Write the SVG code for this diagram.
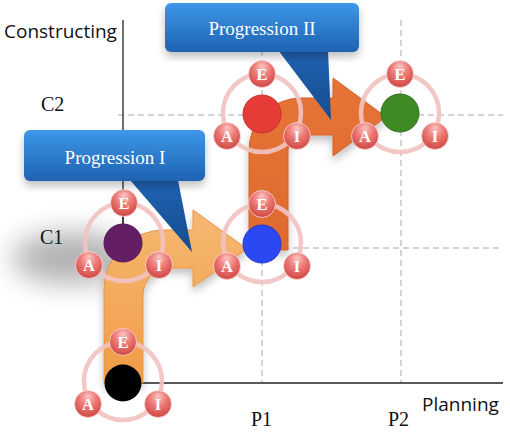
<svg xmlns="http://www.w3.org/2000/svg" width="510" height="437" viewBox="0 0 510 437">
<style>
.axis{stroke:#222;stroke-width:1.3;fill:none}
.grid{stroke:#aaa;stroke-width:1;stroke-dasharray:6 4;fill:none}
.lbl{font-family:"Liberation Serif",serif;font-size:20px;fill:#111}
.slbl{font-family:"Open Sans","DejaVu Sans",sans-serif;font-size:19px;fill:#111}
.ring{fill:none;stroke:#f1c2c1;stroke-width:4.5;opacity:0.92}
.ball{fill:url(#ballG);stroke:#f8dcdb;stroke-width:0.8}
.bt{font-family:"Liberation Serif",serif;font-size:16.5px;font-weight:bold;fill:#fff;text-anchor:middle}
.ctext{font-family:"Liberation Serif",serif;font-size:19px;fill:#fff;text-anchor:middle}
</style>
<defs>
<radialGradient id="ballG" cx="0.5" cy="0.35" r="0.65" fx="0.5" fy="0.2">
<stop offset="0" stop-color="#fbc6c3"/>
<stop offset="0.5" stop-color="#ec7874"/>
<stop offset="1" stop-color="#cf4744"/>
</radialGradient>
<linearGradient id="lightG" gradientUnits="userSpaceOnUse" x1="0" y1="210" x2="0" y2="383">
<stop offset="0" stop-color="#f6b873"/>
<stop offset="1" stop-color="#f19c45"/>
</linearGradient>
<linearGradient id="darkG" gradientUnits="userSpaceOnUse" x1="0" y1="78" x2="0" y2="250">
<stop offset="0" stop-color="#e67436"/>
<stop offset="1" stop-color="#de6a2f"/>
</linearGradient>
<linearGradient id="boxG" x1="0" y1="0" x2="0" y2="1">
<stop offset="0" stop-color="#3d97e9"/>
<stop offset="1" stop-color="#1f62b2"/>
</linearGradient>
<linearGradient id="tailG" x1="0" y1="0" x2="0" y2="1">
<stop offset="0" stop-color="#1f62b2"/>
<stop offset="1" stop-color="#164c8c"/>
</linearGradient>
<filter id="blur" x="-50%" y="-100%" width="200%" height="300%">
<feGaussianBlur stdDeviation="14"/>
</filter>
<filter id="soft" x="-20%" y="-20%" width="140%" height="140%">
<feGaussianBlur in="SourceAlpha" stdDeviation="4"/>
<feOffset dx="0" dy="5" result="b"/>
<feComponentTransfer><feFuncA type="linear" slope="0.25"/></feComponentTransfer>
<feMerge><feMergeNode/><feMergeNode in="SourceGraphic"/></feMerge>
</filter>
<g id="nodeBase">
<circle class="ring" cx="0" cy="0" r="39"/>
</g>
<g id="balls">
<circle class="ball" cx="0" cy="-39" r="13.5"/>
<text class="bt" x="0" y="-33.5">E</text>
<circle class="ball" cx="-35" cy="23" r="13.5"/>
<text class="bt" x="-35" y="28.5">A</text>
<circle class="ball" cx="35" cy="23" r="13.5"/>
<text class="bt" x="35" y="28.5">I</text>
</g>
</defs>

<g id="axes">
<ellipse cx="72" cy="258" rx="60" ry="26" fill="#000" opacity="0.3" filter="url(#blur)"/>
<line class="grid" x1="118" y1="115" x2="503" y2="115"/>
<line class="grid" x1="123" y1="248" x2="503" y2="248"/>
<line class="grid" x1="262" y1="20" x2="262" y2="383"/>
<line class="grid" x1="401" y1="20" x2="401" y2="383"/>
<line class="axis" x1="123" y1="20" x2="123" y2="383"/>
<line class="axis" x1="123" y1="383" x2="503" y2="383"/>
<text class="slbl" x="4" y="38">Constructing</text>
<text class="slbl" x="422" y="411">Planning</text>
<text class="lbl" x="41" y="111">C2</text>
<text class="lbl" x="40" y="244">C1</text>
<text class="lbl" x="251" y="426">P1</text>
<text class="lbl" x="388" y="426">P2</text>
</g>

<g id="connectors">
<path d="M249,250 L249,150 A52,52 0 0 1 301,98 L333,98 L333,78 L386,117 L333,156 L333,135 L303,135 A15,15 0 0 0 288,150 L288,250 Z" fill="url(#darkG)" stroke="#d4612a" stroke-width="1" filter="url(#soft)"/>
<path d="M104,383 L104,290 A60,60 0 0 1 164,230 L193,230 L193,210 L247,249 L193,287 L193,268 L170,268 A27,27 0 0 0 143,295 L143,383 Z" fill="url(#lightG)" stroke="#e99445" stroke-width="1" filter="url(#soft)"/>
</g>

<g id="node-start" transform="translate(123,381)">
<use href="#nodeBase"/>
<circle cx="0" cy="2" r="18.5" fill="#000"/>
<use href="#balls"/>
</g>
<g id="node-c1" transform="translate(124,242)">
<use href="#nodeBase"/>
<line x1="-1" y1="-26" x2="-1" y2="-18" stroke="#222" stroke-width="1.3"/>
<circle cx="-1" cy="1" r="19" fill="#641e63" stroke="#551654" stroke-width="1"/>
<use href="#balls"/>
</g>
<g id="node-p1c1" transform="translate(262,243)">
<use href="#nodeBase"/>
<circle cx="0" cy="1" r="19" fill="#2b48f2" stroke="#2038cc" stroke-width="1"/>
<use href="#balls"/>
</g>
<g id="node-p1c2" transform="translate(262,113)">
<use href="#nodeBase"/>
<circle cx="0" cy="1" r="19" fill="#e63c37" stroke="#c92e2a" stroke-width="1"/>
<use href="#balls"/>
</g>
<g id="node-p2c2" transform="translate(400,113)">
<use href="#nodeBase"/>
<circle cx="0" cy="0" r="19" fill="#3f8a25" stroke="#2f6f1b" stroke-width="1"/>
<use href="#balls"/>
</g>

<g id="callout-1">
<polygon points="130,180 178,180 192,252" fill="url(#tailG)"/>
<rect x="24" y="130" width="181" height="51" rx="6" fill="url(#boxG)" filter="url(#soft)"/>
<text class="ctext" x="115" y="164">Progression I</text>
</g>
<g id="callout-2">
<polygon points="278,50 328,50 331,120" fill="url(#tailG)"/>
<rect x="165" y="3" width="194" height="49" rx="6" fill="url(#boxG)" filter="url(#soft)"/>
<text class="ctext" x="262" y="35">Progression II</text>
</g>
</svg>
